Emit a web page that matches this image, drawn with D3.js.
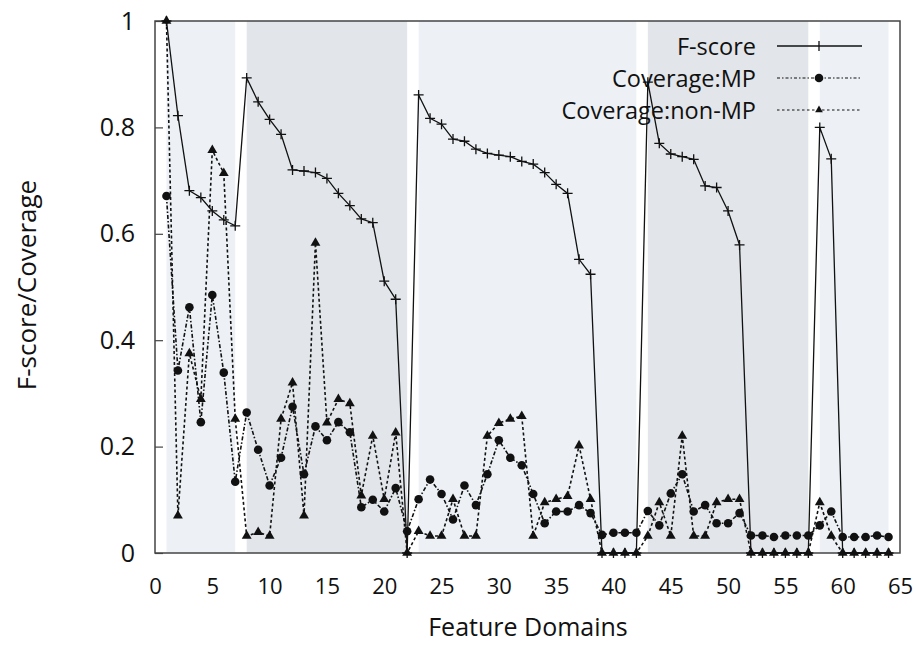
<!DOCTYPE html>
<html>
<head>
<meta charset="utf-8">
<script src="https://cdn.jsdelivr.net/npm/d3@7"></script>
<style>
  body { margin: 0; background: #fff; }
  text { font-family: "Open Sans", "Noto Sans", sans-serif; fill: #111; }
</style>
</head>
<body>
<div id="root"></div>
<script>
// Feature domain indices 1..64
const domains = d3.range(1, 65);

const fscore = [
  1.0, 0.822, 0.681, 0.668, 0.643, 0.626, 0.615,
  0.893, 0.848, 0.815, 0.787, 0.720, 0.718, 0.715, 0.704, 0.676, 0.653, 0.628, 0.621, 0.511, 0.477,
  0,
  0.861, 0.817, 0.806, 0.778, 0.774, 0.759, 0.751, 0.748, 0.745, 0.736, 0.731, 0.715, 0.693, 0.676, 0.552, 0.524,
  0, 0, 0, 0,
  0.885, 0.770, 0.750, 0.745, 0.740, 0.690, 0.687, 0.643, 0.579,
  0, 0, 0, 0, 0, 0,
  0.800, 0.741,
  0, 0, 0, 0, 0
];

const coverageMP = [
  0.671, 0.343, 0.462, 0.246, 0.485, 0.339, 0.134,
  0.264, 0.194, 0.127, 0.179, 0.275, 0.148, 0.238, 0.212, 0.246, 0.227, 0.086, 0.100, 0.078, 0.122,
  0.041,
  0.101, 0.138, 0.111, 0.063, 0.127, 0.090, 0.148, 0.212, 0.179, 0.165, 0.111, 0.056, 0.078, 0.078, 0.090, 0.075,
  0.034, 0.038, 0.038, 0.038,
  0.079, 0.052, 0.112, 0.148, 0.078, 0.090, 0.056, 0.056, 0.075,
  0.033, 0.033, 0.030, 0.033, 0.033, 0.033,
  0.052, 0.078,
  0.030, 0.030, 0.030, 0.033, 0.030
];

const coverageNonMP = [
  1.0, 0.070, 0.375, 0.289, 0.757, 0.714, 0.252,
  0.032, 0.039, 0.032, 0.252, 0.320, 0.070, 0.583, 0.245, 0.289, 0.281, 0.108, 0.220, 0.101, 0.226,
  0,
  0.041, 0.032, 0.032, 0.101, 0.032, 0.032, 0.220, 0.244, 0.252, 0.257, 0.032, 0.095, 0.101, 0.107, 0.202, 0.101,
  0, 0, 0, 0,
  0.032, 0.095, 0.032, 0.220, 0.032, 0.032, 0.095, 0.101, 0.101,
  0, 0, 0, 0, 0, 0,
  0.095, 0.032,
  0, 0, 0, 0, 0
];

// shaded groups of domains
const bandStart = [1, 8, 23, 43, 58];
const bandEnd = [7, 22, 42, 57, 64];
const bandShade = ['light', 'dark', 'light', 'dark', 'light'];

const xTicks = d3.range(0, 66, 5);
const yTicks = [0, 0.2, 0.4, 0.6, 0.8, 1];

const seriesNames = ['F-score', 'Coverage:MP', 'Coverage:non-MP'];

const width = 916, height = 645;
const plot = { left: 155, right: 900, top: 21, bottom: 553 };

const svg = d3.select('#root')
  .append('svg')
  .attr('width', width)
  .attr('height', height);

const x = d3.scaleLinear().domain([0, 65]).range([plot.left, plot.right]);
const y = d3.scaleLinear().domain([0, 1]).range([plot.bottom, plot.top]);

// background bands
svg.append('g')
  .selectAll('rect')
  .data(bandStart)
  .enter()
  .append('rect')
  .attr('x', d => x(d))
  .attr('y', plot.top)
  .attr('width', (d, i) => x(bandEnd[i]) - x(d))
  .attr('height', plot.bottom - plot.top)
  .attr('fill', (d, i) => bandShade[i] === 'light' ? '#edf1f5' : '#e2e5e9');

// axes
const yAxis = d3.axisLeft(y).tickValues(yTicks).tickSize(-8).tickPadding(20)
  .tickFormat(d => d === 0 || d === 1 ? d3.format('d')(d) : d3.format('.1f')(d));
const gy = svg.append('g')
  .attr('transform', `translate(${plot.left},0)`)
  .call(yAxis);
gy.select('.domain').remove();
gy.selectAll('line').attr('stroke', '#444').attr('stroke-width', 1.2);
gy.selectAll('text').style('font-size', '25px').attr('fill', '#111');

const xAxis = d3.axisBottom(x).tickValues(xTicks).tickSize(0).tickPadding(25);
const gx = svg.append('g')
  .attr('transform', `translate(0,${plot.bottom})`)
  .call(xAxis);
gx.select('.domain').remove();
gx.selectAll('text').style('font-size', '22px').attr('fill', '#111');

// frame
svg.append('rect')
  .attr('x', plot.left)
  .attr('y', plot.top)
  .attr('width', plot.right - plot.left)
  .attr('height', plot.bottom - plot.top)
  .attr('fill', 'none')
  .attr('stroke', '#444')
  .attr('stroke-width', 1.5);

// axis titles
svg.append('text')
  .attr('x', 528)
  .attr('y', 636)
  .attr('text-anchor', 'middle')
  .style('font-size', '25px')
  .text('Feature Domains');

svg.append('text')
  .attr('transform', 'translate(36,285) rotate(-90)')
  .attr('text-anchor', 'middle')
  .style('font-size', '26px')
  .text('F-score/Coverage');

// series
const line = d3.line().x(d => x(d[0])).y(d => y(d[1]));
const pts = vals => domains.map((d, i) => [d, vals[i]]);

const triangle = d3.symbol().type(d3.symbolTriangle).size(42);
const plusPath = 'M-5,0H5M0,-5V5';

function drawSeries(vals, dash, marker) {
  const g = svg.append('g');
  g.append('path')
    .datum(pts(vals))
    .attr('d', line)
    .attr('fill', 'none')
    .attr('stroke', '#111')
    .attr('stroke-width', dash ? 1.6 : 1.3)
    .attr('stroke-dasharray', dash);
  const m = g.selectAll('.m')
    .data(pts(vals))
    .enter();
  if (marker === 'plus') {
    m.append('path')
      .attr('transform', d => `translate(${x(d[0])},${y(d[1])})`)
      .attr('d', plusPath)
      .attr('stroke', '#111')
      .attr('stroke-width', 1.3);
  } else if (marker === 'circle') {
    m.append('circle')
      .attr('cx', d => x(d[0]))
      .attr('cy', d => y(d[1]))
      .attr('r', 4.3)
      .attr('fill', '#111');
  } else {
    m.append('path')
      .attr('transform', d => `translate(${x(d[0])},${y(d[1])})`)
      .attr('d', triangle)
      .attr('fill', '#111');
  }
}

drawSeries(coverageNonMP, '3,2.5', 'triangle');
drawSeries(coverageMP, '4,2,1.5,2', 'circle');
drawSeries(fscore, null, 'plus');

// legend
const legendDash = [null, '3,2,1.5,2', '2.5,2.5'];
const legendMarker = ['plus', 'circle', 'triangle'];
const legend = svg.append('g')
  .selectAll('g')
  .data(seriesNames)
  .enter()
  .append('g')
  .attr('transform', (d, i) => `translate(0,${46 + i * 32})`);

legend.append('text')
  .attr('x', 756)
  .attr('y', 9)
  .attr('text-anchor', 'end')
  .style('font-size', '23.5px')
  .text(d => d);

legend.append('line')
  .attr('x1', 777)
  .attr('x2', 862)
  .attr('stroke', '#111')
  .attr('stroke-width', (d, i) => i === 0 ? 1.3 : 1.2)
  .attr('stroke-dasharray', (d, i) => legendDash[i]);

legend.each(function (d, i) {
  const g = d3.select(this);
  if (legendMarker[i] === 'plus') {
    g.append('path').attr('transform', 'translate(819,0)').attr('d', 'M0,-5V5')
      .attr('stroke', '#111').attr('stroke-width', 1.3);
  } else if (legendMarker[i] === 'circle') {
    g.append('circle').attr('cx', 819).attr('r', 4.3).attr('fill', '#111');
  } else {
    g.append('path').attr('transform', 'translate(819,0)')
      .attr('d', d3.symbol().type(d3.symbolTriangle).size(26)).attr('fill', '#111');
  }
});
</script>
</body>
</html>
